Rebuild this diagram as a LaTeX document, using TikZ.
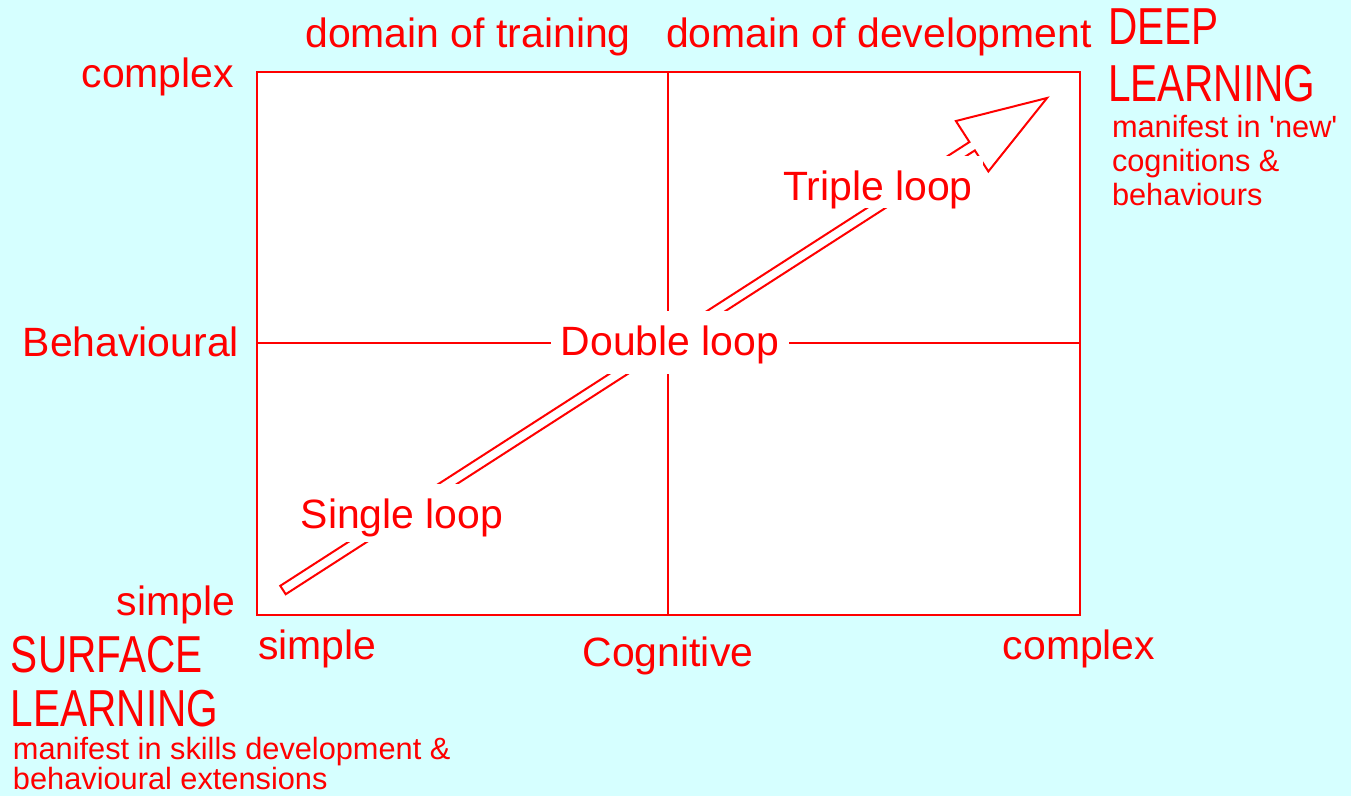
\documentclass[tikz,border=0pt]{standalone}
\usepackage{fontspec}
\setmainfont{Liberation Sans}
\newfontfamily\narrowfont[FakeStretch=0.78]{Liberation Sans}
\usetikzlibrary{calc}
\definecolor{bgcyan}{RGB}{214,255,255}
\newcommand\shaftw{0.1cm}
\newcommand\headw{0.6cm}
\newcommand\neckpos{0.902}
\tikzset{
 lab/.style={inner sep=0pt,font=\fontsize{23.3}{28}\selectfont},
 looplab/.style={lab,fill=white,inner xsep=0.2cm,inner ysep=0pt,text height=0.88cm,text depth=#1},
 bigtitle/.style={inner sep=0pt,align=left,font=\narrowfont\fontsize{29.6}{#1}\selectfont},
 note/.style={inner sep=0pt,align=left,font=\fontsize{17.5}{#1}\selectfont}
}
\begin{document}
\begin{tikzpicture}[x=0.02cm,y=-0.02cm,line width=0.04cm,red]
\path[use as bounding box,fill=bgcyan] (0,0) rectangle (1351,796);
\draw[fill=white] (257,72) coordinate (NW) rectangle (1080,615) coordinate (SE);
\draw (668,72)--(668,615) (257,343)--(1080,343);
\coordinate (tail) at (283,590);
\coordinate (tip) at (1047,98);
\coordinate (neck) at ($(tail)!\neckpos!(tip)$);
\draw ($(tail)!\shaftw!90:(tip)$)--($(neck)!\shaftw!90:(tip)$)--($(neck)!\headw!90:(tip)$)--(tip)
  --($(neck)!\headw!-90:(tip)$)--($(neck)!\shaftw!-90:(tip)$)--($(tail)!\shaftw!-90:(tip)$)--cycle;
\node[lab,anchor=base] (training) at (468,47) {domain of training};
\node[lab,anchor=base] (development) at (879,47) {domain of development};
\node[lab,anchor=base east] (cplxy) at (235,87) {complex};
\node[lab,anchor=base east] (behav) at (240,356) {Behavioural};
\node[lab,anchor=base east] (simpley) at (236,615) {simple};
\node[lab,anchor=base west] (simplex) at (257,659) {simple};
\node[lab,anchor=base] (cogn) at (668,666) {Cognitive};
\node[lab,anchor=base] (cplxx) at (1079,659) {complex};
\node[looplab=0.16cm,anchor=base] (triple) at (878,200) {Triple loop};
\node[looplab=0.38cm,anchor=base] (double) at (670,355) {Double loop};
\node[looplab=0.28cm,anchor=base] (single) at (402,528) {Single loop};
\node[bigtitle=32.4,anchor=north west] (deep) at (1107,8) {DEEP\\LEARNING};
\node[note=19.4,anchor=north west] (deepnote) at (1111,114) {manifest in \textquotesingle new\textquotesingle\\cognitions \&\\behaviours};
\node[bigtitle=31,anchor=north west] (surface) at (10,635) {SURFACE\\LEARNING};
\node[note=17.1,anchor=north west] (surfnote) at (12,736) {manifest in skills development \&\\behavioural extensions};
\end{tikzpicture}
\end{document}
